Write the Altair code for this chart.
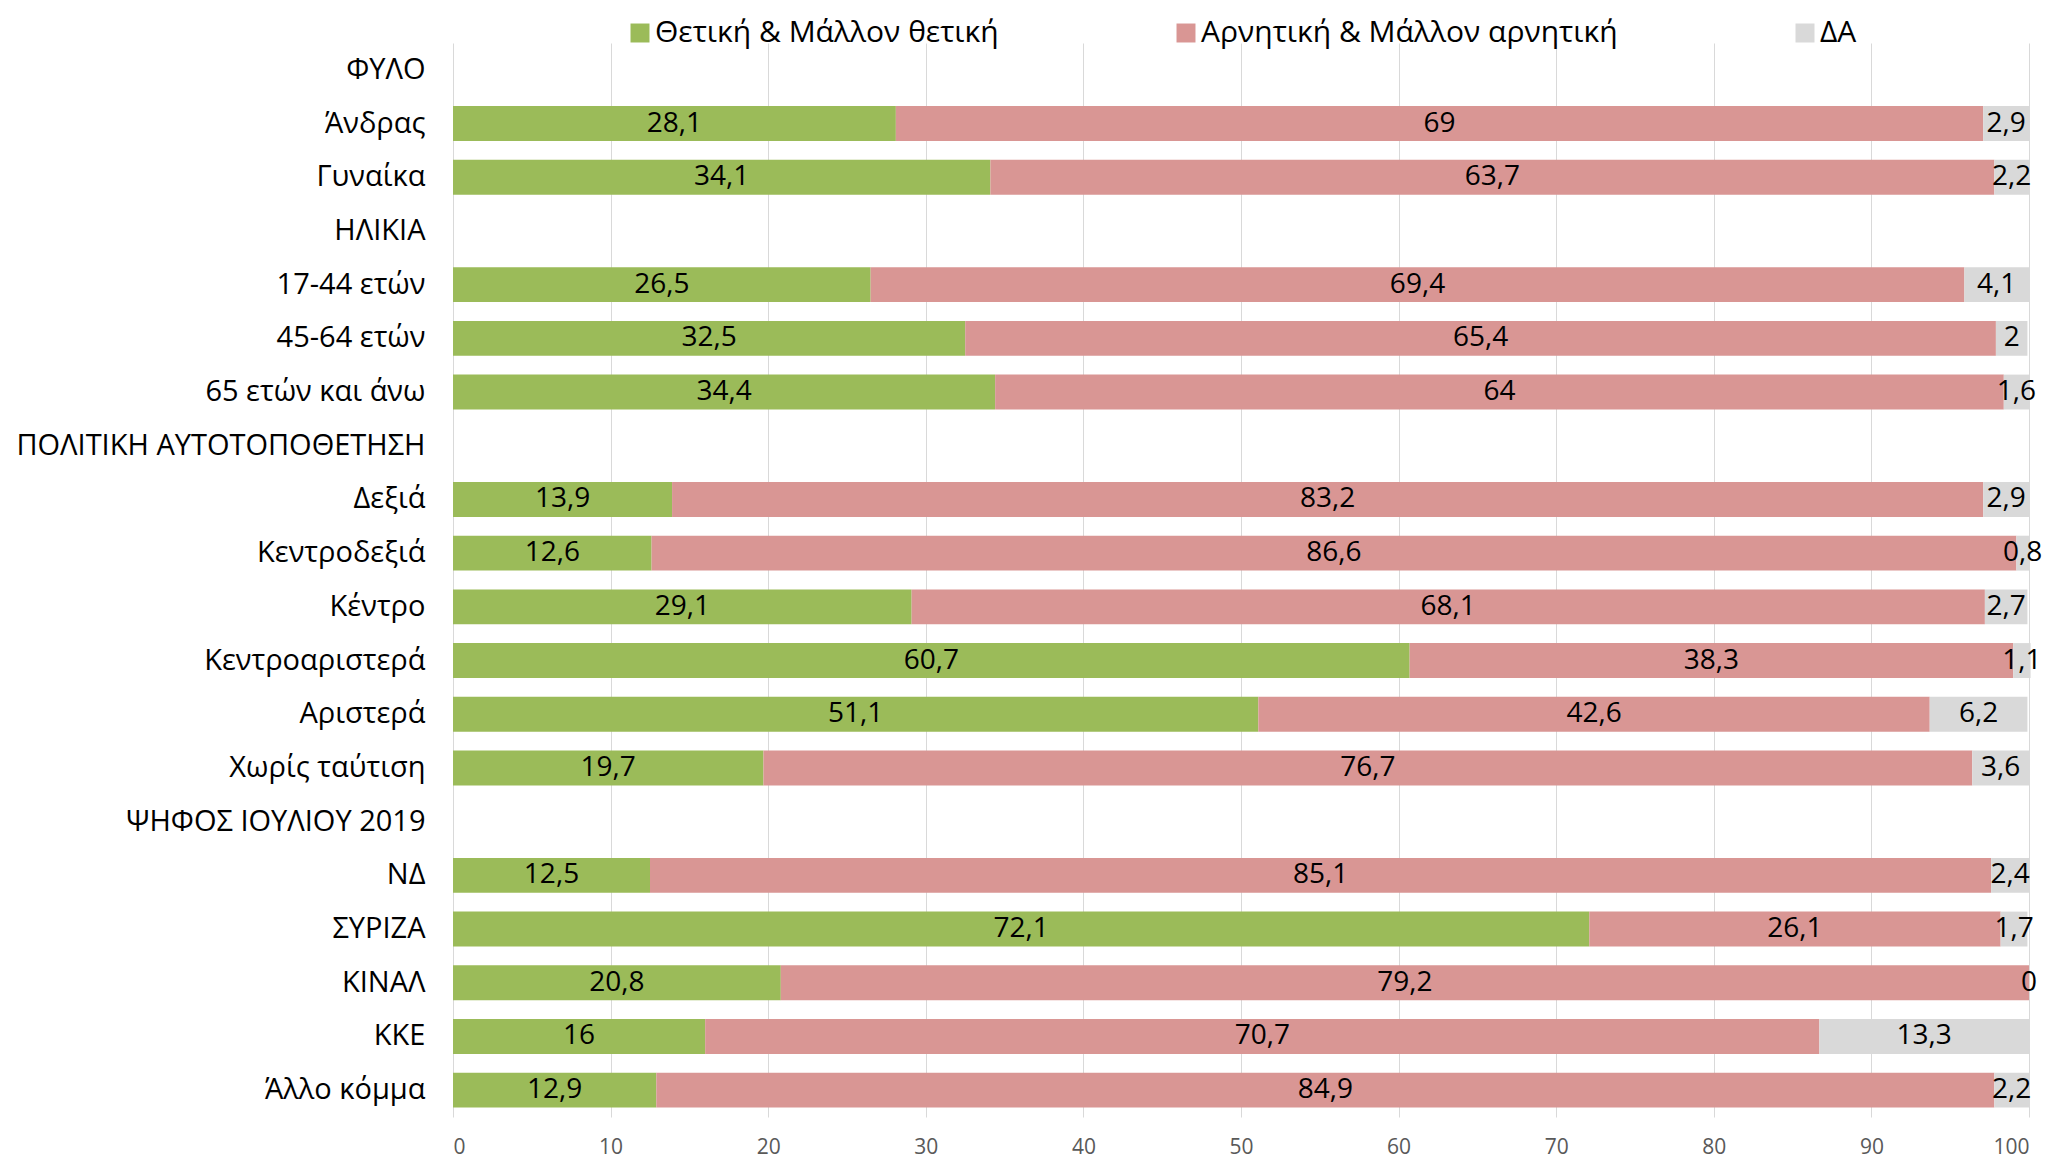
import altair as alt
import pandas as pd

rows = ["ΦΥΛΟ", "Άνδρας", "Γυναίκα", "ΗΛΙΚΙΑ", "17-44 ετών", "45-64 ετών",
        "65 ετών και άνω", "ΠΟΛΙΤΙΚΗ ΑΥΤΟΤΟΠΟΘΕΤΗΣΗ", "Δεξιά", "Κεντροδεξιά",
        "Κέντρο", "Κεντροαριστερά", "Αριστερά", "Χωρίς ταύτιση",
        "ΨΗΦΟΣ ΙΟΥΛΙΟΥ 2019", "ΝΔ", "ΣΥΡΙΖΑ", "ΚΙΝΑΛ", "ΚΚΕ", "Άλλο κόμμα"]

positive = [None, 28.1, 34.1, None, 26.5, 32.5, 34.4, None, 13.9, 12.6, 29.1, 60.7, 51.1, 19.7,
            None, 12.5, 72.1, 20.8, 16, 12.9]
negative = [None, 69, 63.7, None, 69.4, 65.4, 64, None, 83.2, 86.6, 68.1, 38.3, 42.6, 76.7,
            None, 85.1, 26.1, 79.2, 70.7, 84.9]
dk = [None, 2.9, 2.2, None, 4.1, 2, 1.6, None, 2.9, 0.8, 2.7, 1.1, 6.2, 3.6,
      None, 2.4, 1.7, 0, 13.3, 2.2]

series = ["Θετική & Μάλλον θετική", "Αρνητική & Μάλλον αρνητική", "ΔΑ"]
colors = ["#9BBB59", "#D99694", "#D9D9D9"]

FONT = "Open Sans"


def fmt(v):
    s = ("%g" % v)
    return s.replace(".", ",")


recs = []
for i, r in enumerate(rows):
    for k, vals in enumerate([positive, negative, dk]):
        v = vals[i]
        if v is None:
            continue
        recs.append({"row": r, "series": series[k], "order": k, "value": v, "label": fmt(v)})
df = pd.DataFrame(recs)

base = alt.Chart(df).transform_stack(
    stack="value", as_=["x0", "x1"], groupby=["row"], sort=[alt.SortField("order")]
).transform_calculate(mid="(datum.x0 + datum.x1) / 2")

yenc = alt.Y("row:N", sort=rows,
             scale=alt.Scale(domain=rows, paddingInner=0.35, paddingOuter=0.175),
             axis=alt.Axis(title=None, ticks=False, domain=False, grid=False,
                           labelFontSize=29, labelFont=FONT, labelColor="#000000",
                           labelPadding=28, labelLimit=600))

bars = base.mark_bar().encode(
    y=yenc,
    x=alt.X("x0:Q", scale=alt.Scale(domain=[0, 100], nice=False),
            axis=alt.Axis(title=None, values=list(range(0, 101, 10)), grid=True,
                          gridColor="#D9D9D9", gridWidth=1, ticks=False, domain=False,
                          labelFontSize=21, labelFont=FONT, labelColor="#595959",
                          labelPadding=19)),
    x2="x1:Q",
    color=alt.Color("series:N", scale=alt.Scale(domain=series, range=colors),
                    legend=alt.Legend(title=None, orient="none", legendX=172, legendY=-25,
                                      direction="horizontal", columns=3, columnPadding=172,
                                      symbolType="square", symbolSize=360,
                                      symbolStrokeWidth=0, symbolOpacity=1,
                                      labelFontSize=30, labelFont=FONT,
                                      labelColor="#000000", labelOffset=0,
                                      labelLimit=800)),
    order=alt.Order("order:Q"),
)

texts = base.mark_text(font=FONT, fontSize=28, color="#000000", baseline="middle",
                       align="center").encode(
    y=alt.Y("row:N", sort=rows),
    x=alt.X("mid:Q"),
    text="label:N",
)

chart = alt.layer(bars, texts).properties(
    width=1576, height=1074,
    autosize=alt.AutoSizeParams(type="none"),
    padding={"left": 445, "top": 35, "right": 15, "bottom": 42},
).configure_view(stroke=None)

chart.save("out.html", embed_options={"renderer": "svg", "actions": False})
